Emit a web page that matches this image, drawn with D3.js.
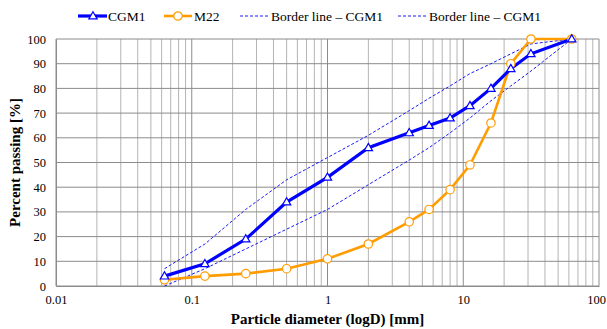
<!DOCTYPE html>
<html>
<head>
<meta charset="utf-8">
<script src="https://cdn.jsdelivr.net/npm/d3@7"></script>
<style>
  body { margin: 0; background: #fff; }
</style>
</head>
<body>
<div id="chart"></div>
<script>
// Sieve sizes [mm]
var sieves = [0.063, 0.125, 0.25, 0.5, 1, 2, 4, 5.6, 8, 11.2, 16, 22.4, 31.5, 63];

// Percent passing
var cgm1 = [4, 9, 19, 34, 44, 56, 62, 65, 68, 73, 80, 88, 94, 100];
var m22 = [2.5, 4, 5, 7, 11, 17, 26, 31, 39, 49, 66, 90, 100, 100];
var borderUpper = [7, 17, 31, 43, 52, 61, 71, 76, 81, 86, 90, 94, 98, 100];
var borderLower = [0, 7, 15, 23, 31, 41, 51, 56, 62, 68, 75, 81, 87, 100];

var xTicks = [0.01, 0.1, 1, 10, 100];
var yTicks = [0, 10, 20, 30, 40, 50, 60, 70, 80, 90, 100];

var FONT = "'Liberation Serif'";

var svgWidth = 607;
var svgHeight = 329;

var margin = { top: 39, right: 8, bottom: 43, left: 56 };
var width = 599 - margin.left;
var height = 286 - margin.top;

var svg = d3.select("#chart")
    .append("svg")
    .attr("width", svgWidth)
    .attr("height", svgHeight);

var chartGroup = svg.append("g")
    .attr("transform", `translate(${margin.left}, ${margin.top})`);

var x = d3.scaleLog().domain([0.01, 100]).range([0, width]);
var y = d3.scaleLinear().domain([0, 100]).range([height, 0]);

// Vertical grid (minor 2..9 per decade, major at decades)
var minor = [];
for (var e = -2; e < 2; e++) {
    for (var m = 2; m <= 9; m++) minor.push(m * Math.pow(10, e));
}
chartGroup.selectAll(".vminor")
    .data(minor)
    .enter()
    .append("line")
    .attr("x1", d => x(d)).attr("x2", d => x(d))
    .attr("y1", 0).attr("y2", height)
    .attr("stroke", "#b4b4b4")
    .attr("stroke-width", 1);

chartGroup.selectAll(".vmajor")
    .data(xTicks)
    .enter()
    .append("line")
    .attr("x1", d => x(d)).attr("x2", d => x(d))
    .attr("y1", 0).attr("y2", height)
    .attr("stroke", "#8c8c8c")
    .attr("stroke-width", 1);

// Horizontal grid
chartGroup.selectAll(".hgrid")
    .data(yTicks)
    .enter()
    .append("line")
    .attr("x1", 0).attr("x2", width)
    .attr("y1", d => y(d)).attr("y2", d => y(d))
    .attr("stroke", "#8c8c8c")
    .attr("stroke-width", 1);

// Axes
var bottom = d3.axisBottom(x).tickValues(xTicks).tickFormat(d => String(d)).tickSize(0).tickPadding(9);
var left = d3.axisLeft(y).tickValues(yTicks).tickSize(0).tickPadding(10);

var xAxis = chartGroup.append("g")
    .attr("transform", `translate(0, ${height})`)
    .call(bottom);
var yAxis = chartGroup.append("g").call(left);

[xAxis, yAxis].forEach(function(a) {
    a.attr("font-size", 12.5);
    a.select(".domain").attr("stroke", "#8c8c8c");
    a.selectAll("text").attr("fill", "#000");
});
// last x label sits against the right edge
xAxis.selectAll(".tick text").filter(d => d === 100).attr("dx", -3);

// Series
var line = d3.line()
    .x((d, i) => x(sieves[i]))
    .y(d => y(d));

[borderUpper, borderLower].forEach(function(s) {
    chartGroup.append("path")
        .datum(s)
        .attr("d", line)
        .attr("fill", "none")
        .attr("stroke", "#1a1aff")
        .attr("stroke-width", 1)
        .attr("stroke-dasharray", "3,2");
});

chartGroup.append("path")
    .datum(m22)
    .attr("d", line)
    .attr("fill", "none")
    .attr("stroke", "#ff9c00")
    .attr("stroke-width", 2.6);

chartGroup.append("path")
    .datum(cgm1)
    .attr("d", line)
    .attr("fill", "none")
    .attr("stroke", "#0000ff")
    .attr("stroke-width", 3.2);

var tri = d3.symbol().type(d3.symbolTriangle).size(30);

chartGroup.selectAll(".m22pt")
    .data(m22)
    .enter()
    .append("circle")
    .attr("cx", (d, i) => x(sieves[i]))
    .attr("cy", d => y(d))
    .attr("r", 4.2)
    .attr("fill", "#fff")
    .attr("stroke", "#ff9c00")
    .attr("stroke-width", 1.2);

chartGroup.selectAll(".cgmpt")
    .data(cgm1)
    .enter()
    .append("path")
    .attr("d", tri)
    .attr("transform", (d, i) => `translate(${x(sieves[i])}, ${y(d) + 0.5})`)
    .attr("fill", "#fff")
    .attr("stroke", "#0000ff")
    .attr("stroke-width", 1.2);

// Axis titles
svg.append("text")
    .attr("x", margin.left + width / 2)
    .attr("y", 324)
    .attr("text-anchor", "middle")
    .attr("font-size", 15)
    .attr("font-weight", "bold")
    .text("Particle diameter (logD) [mm]");

svg.append("text")
    .attr("transform", `translate(20, ${margin.top + height / 2}) rotate(-90)`)
    .attr("text-anchor", "middle")
    .attr("font-size", 15)
    .attr("font-weight", "bold")
    .text("Percent passing [%]");

// Legend
var legend = svg.append("g").attr("transform", "translate(0, 16)");

legend.append("line").attr("x1", 78).attr("x2", 107).attr("y1", 0).attr("y2", 0)
    .attr("stroke", "#0000ff").attr("stroke-width", 3.2);
legend.append("path").attr("d", tri).attr("transform", "translate(93, 0.5)")
    .attr("fill", "#fff").attr("stroke", "#0000ff").attr("stroke-width", 1.2);
legend.append("text").attr("x", 108).attr("y", 5).attr("font-size", 13.5).text("CGM1");

legend.append("line").attr("x1", 164).attr("x2", 192).attr("y1", 0).attr("y2", 0)
    .attr("stroke", "#ff9c00").attr("stroke-width", 2.6);
legend.append("circle").attr("cx", 178).attr("cy", 0).attr("r", 4.2)
    .attr("fill", "#fff").attr("stroke", "#ff9c00").attr("stroke-width", 1.2);
legend.append("text").attr("x", 194).attr("y", 5).attr("font-size", 13.5).text("M22");

[[240, 268, 271], [398, 426, 429]].forEach(function(p) {
    legend.append("line").attr("x1", p[0]).attr("x2", p[1]).attr("y1", 0).attr("y2", 0)
        .attr("stroke", "#1a1aff").attr("stroke-width", 1).attr("stroke-dasharray", "3,2");
    legend.append("text").attr("x", p[2]).attr("y", 5).attr("font-size", 13.5)
        .text("Border line \u2013 CGM1");
});

// serif face on every label
svg.selectAll("text").attr("font-family", FONT);
</script>
</body>
</html>
